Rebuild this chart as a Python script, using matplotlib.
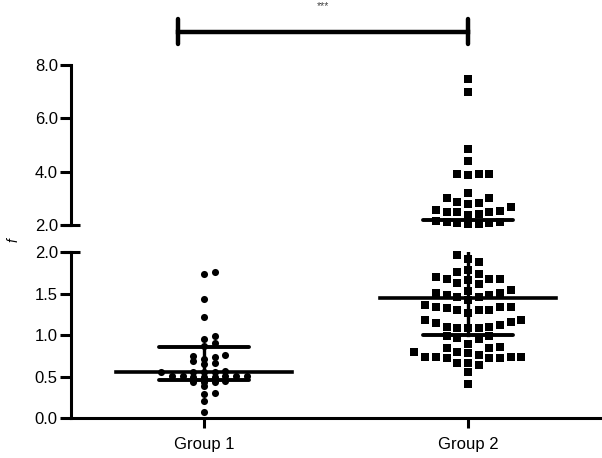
import matplotlib
matplotlib.use("Agg")
import matplotlib.pyplot as plt
import numpy as np

plt.rcParams['font.family'] = ['Liberation Sans', 'DejaVu Sans']

# values
group_names = ["Group 1", "Group 2"]
group1 = [1.76, 1.73, 1.44, 1.22, 0.99, 0.95, 0.90, 0.87, 0.76, 0.75, 0.73, 0.71,
          0.69, 0.66, 0.65, 0.57, 0.56, 0.56, 0.55, 0.56, 0.51, 0.51, 0.50, 0.51,
          0.50, 0.51, 0.50, 0.51, 0.45, 0.44, 0.43, 0.44, 0.38, 0.30, 0.29, 0.20, 0.07]
group2 = [1.96, 1.92, 1.88, 1.78, 1.76, 1.74, 1.70, 1.68, 1.68, 1.68, 1.66, 1.63,
          1.62, 1.54, 1.53, 1.51, 1.51, 1.48, 1.48, 1.46, 1.46, 1.42, 1.36, 1.34,
          1.34, 1.34, 1.32, 1.30, 1.30, 1.30, 1.26, 1.18, 1.18, 1.16, 1.14, 1.12,
          1.10, 1.10, 1.09, 1.09, 1.08, 0.99, 0.99, 0.97, 0.95, 0.89, 0.86, 0.84,
          0.84, 0.80, 0.79, 0.78, 0.76, 0.74, 0.74, 0.74, 0.73, 0.72, 0.72, 0.72,
          0.66, 0.66, 0.64, 0.55, 0.41,
          7.46, 7.00, 4.85, 4.41, 3.93, 3.90, 3.88, 3.92, 3.21, 3.02, 3.00, 2.87,
          2.81, 2.78, 2.69, 2.56, 2.54, 2.48, 2.48, 2.48, 2.42, 2.38, 2.16, 2.10,
          2.10, 2.06, 2.06, 2.05, 2.02]
medians = [0.55, 1.45]
q1s = [0.46, 1.00]
q3s = [0.85, 2.20]
markers = ["o", "s"]
upper_ticks = [2.0, 4.0, 6.0, 8.0]
lower_ticks = [0.0, 0.5, 1.0, 1.5, 2.0]
brk = 2.0

fig = plt.figure(figsize=(6.02, 4.58), dpi=100)
ax_up = fig.add_axes([0.118, 0.5087, 0.882, 0.3493])
ax_lo = fig.add_axes([0.118, 0.0873, 0.882, 0.3624])

for ax in (ax_up, ax_lo):
    ax.set_xlim(0.496, 2.508)
    ax.spines['top'].set_visible(False)
    ax.spines['right'].set_visible(False)
    ax.spines['left'].set_linewidth(2.2)
    ax.spines['bottom'].set_linewidth(2.2)
    ax.tick_params(axis='y', length=8, width=2.2, pad=1.5, labelsize=12)
    ax.set_facecolor('none')

ax_up.set_ylim(2, 8)
ax_lo.set_ylim(0, 2)
ax_up.spines['bottom'].set_visible(False)
ax_up.set_xticks([])
ax_up.set_yticks(upper_ticks)
ax_up.set_yticklabels(["%.1f" % t for t in upper_ticks])
ax_lo.set_yticks(lower_ticks)
ax_lo.set_yticklabels(["%.1f" % t for t in lower_ticks])
ax_lo.set_xticks([1, 2])
ax_lo.set_xticklabels(group_names)
ax_lo.tick_params(axis='x', length=7, width=2.2, pad=7, labelsize=12)

# break marks: short tick crossing the spine at the break value
for ax in (ax_up, ax_lo):
    ax.plot([-0.016, 0.016], [brk, brk], color='black', lw=2.2,
            transform=ax.get_yaxis_transform(), clip_on=False, solid_capstyle='butt')

fig.canvas.draw()
px_per_x = ax_lo.transData.transform((2, 0))[0] - ax_lo.transData.transform((1, 0))[0]


def swarm(values, slot_px=10.7, min_dy=5.5):
    # pixel y of each value through the panel it belongs to
    pix = []
    for v in values:
        ax = ax_up if v >= brk else ax_lo
        pix.append(ax.transData.transform((1, v))[1])
    order = np.argsort(pix)
    placed = {}
    offs = np.zeros(len(values))
    for i in order:
        k = 0
        while True:
            for s in ([0] if k == 0 else [k, -k]):
                ys = placed.get(s, [])
                if all(abs(pix[i] - y) >= min_dy for y in ys):
                    placed.setdefault(s, []).append(pix[i])
                    offs[i] = s * slot_px / px_per_x
                    break
            else:
                k += 1
                continue
            break
    return offs


spacing = [4.5, 8.5]
for gi, (vals, mk) in enumerate(zip([group1, group2], markers)):
    xc = gi + 1
    vals = np.array(vals)
    offs = swarm(vals, min_dy=spacing[gi])
    ms = 26 if mk == "o" else 30
    for ax, mask in ((ax_up, vals >= brk), (ax_lo, vals < brk)):
        if mask.any():
            ax.scatter(xc + offs[mask], vals[mask], marker=mk, s=ms, color='black',
                       linewidths=0, clip_on=False, zorder=3)
    # median and interquartile lines
    for ax, lo_lim, hi_lim in ((ax_lo, 0, brk), (ax_up, brk, 8)):
        if lo_lim <= medians[gi] <= hi_lim:
            ax.plot([xc - 0.333, xc + 0.333], [medians[gi]] * 2, color='black', lw=2.6, zorder=4)
        for q in (q1s[gi], q3s[gi]):
            if lo_lim <= q <= hi_lim:
                ax.plot([xc - 0.17, xc + 0.17], [q, q], color='black', lw=2.8, zorder=4,
                        solid_capstyle='round')
        a, b = max(q1s[gi], lo_lim), min(q3s[gi], hi_lim)
        if a < b:
            ax.plot([xc, xc], [a, b], color='black', lw=2.4, zorder=4)

# significance bar
bar_x = [0.9, 2.0]
ax_up.plot(bar_x, [9.24, 9.24], color='black', lw=3.2, clip_on=False)
for bx in bar_x:
    ax_up.plot([bx, bx], [8.8, 9.72], color='black', lw=3.2, clip_on=False,
               solid_capstyle='round')
ax_up.text(sum(bar_x) / 2, 10.22, "***", ha='center', va='center', fontsize=7.5,
           color='#444444')

fig.text(0.022, 0.476, "f", rotation=90, style='italic', fontsize=10,
         ha='center', va='center')

fig.savefig("out.png", dpi=100)
